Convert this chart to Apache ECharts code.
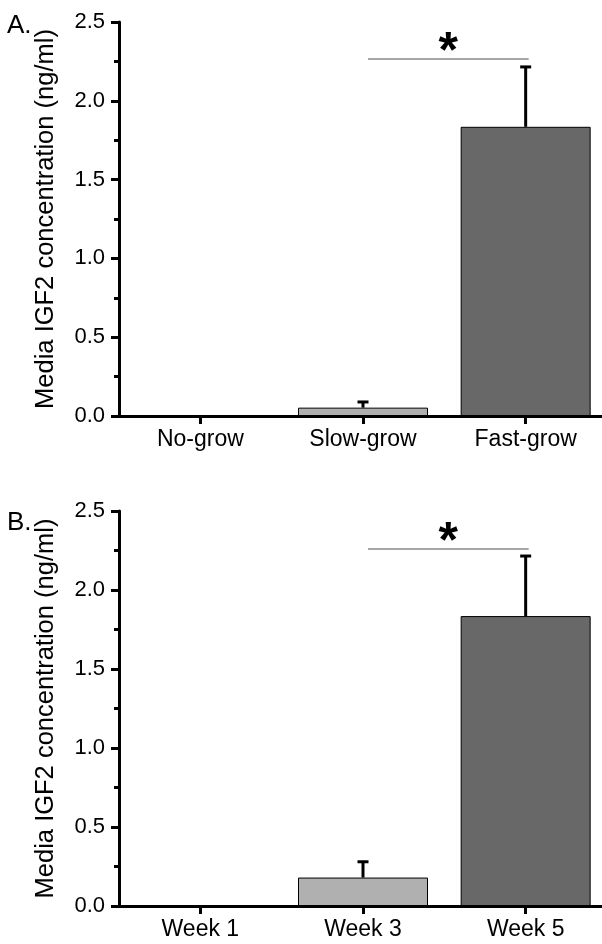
<!DOCTYPE html>
<html>
<head>
<meta charset="utf-8">
<script src="https://cdn.jsdelivr.net/npm/echarts@6/dist/echarts.min.js"></script>
<style>
  html, body { margin: 0; padding: 0; background: #fff; overflow: hidden; }
  #chart { width: 608px; height: 944px; }
</style>
</head>
<body>
<div id="chart"></div>
<script>
// panel A: growth groups
var catsA = ['No-grow', 'Slow-grow', 'Fast-grow'];
var valsA = [0, 0.053, 1.835];
var errA = [0, 0.036, 0.38];
var sigA = 2.265;

// panel B: weeks
var catsB = ['Week 1', 'Week 3', 'Week 5'];
var valsB = [0, 0.18, 1.835];
var errB = [0, 0.1, 0.38];
var sigB = 2.26;

var yTicks = [0, 0.5, 1.0, 1.5, 2.0, 2.5];
var yName = 'Media IGF2 concentration (ng/ml)';

var FONT = 'Liberation Sans, Arial, sans-serif';
var light = '#b0b0b0';
var dark = '#686868';

// container is a few px wider than the window so the x axis runs off the right edge
var chart = echarts.init(document.getElementById('chart'));

function xAxisOpt(cats, gi) {
    return {
        type: 'category',
        gridIndex: gi,
        data: cats,
        axisLine: { lineStyle: { color: '#000', width: 3 } },
        axisTick: { show: true, alignWithLabel: true, length: 8, lineStyle: { color: '#000', width: 3 } },
        axisLabel: { color: '#000', fontSize: 23, fontFamily: FONT, margin: 12 }
    };
}

function yAxisOpt(gi) {
    return {
        type: 'value',
        gridIndex: gi,
        min: yTicks[0],
        max: yTicks[yTicks.length - 1],
        interval: yTicks[1] - yTicks[0],
        name: yName,
        nameLocation: 'middle',
        nameGap: 60,
        nameTextStyle: { color: '#000', fontSize: 25.5, fontFamily: FONT },
        splitLine: { show: false },
        axisLine: { show: true, lineStyle: { color: '#000', width: 3 } },
        axisTick: { show: true, length: 8, lineStyle: { color: '#000', width: 3 } },
        minorTick: { show: true, splitNumber: 2, length: 5, lineStyle: { color: '#000', width: 3 } },
        axisLabel: {
            color: '#000', fontSize: 22, fontFamily: FONT, margin: 14,
            formatter: function (v) { return v.toFixed(1); }
        }
    };
}

function barData(vals) {
    return vals.map(function (v, i) {
        return { value: v, itemStyle: { color: i === vals.length - 1 ? dark : light } };
    });
}

function errData(vals, errs) {
    return vals.map(function (v, i) { return [i, v, v + errs[i]]; });
}

function renderErr(params, api) {
    var lo = api.value(1), hi = api.value(2);
    if (hi <= lo) return null;
    var p0 = api.coord([api.value(0), lo]);
    var p1 = api.coord([api.value(0), hi]);
    var st = { stroke: '#000', lineWidth: 3 };
    return {
        type: 'group',
        children: [
            { type: 'line', shape: { x1: p0[0], y1: p0[1], x2: p1[0], y2: p1[1] }, style: st },
            { type: 'line', shape: { x1: p1[0] - 5.5, y1: p1[1], x2: p1[0] + 5.5, y2: p1[1] }, style: st }
        ]
    };
}

function renderSig(params, api) {
    var y = api.value(2);
    var a = api.coord([api.value(0), y]);
    var b = api.coord([api.value(1), y]);
    return {
        type: 'group',
        children: [
            { type: 'line', shape: { x1: a[0] + 5, y1: a[1], x2: b[0] + 3, y2: b[1] },
              style: { stroke: '#888', lineWidth: 1.5 } },
            { type: 'text', x: (a[0] + b[0]) / 2 + 4, y: a[1] + 19,
              style: { text: '*', fill: '#000', font: 'bold 50px ' + FONT,
                       textAlign: 'center', textVerticalAlign: 'bottom' } }
        ]
    };
}

chart.setOption({
    animation: false,
    backgroundColor: '#fff',
    grid: [
        { left: 119, top: 22, height: 394, width: 488 },
        { left: 119, top: 511, height: 395, width: 488 }
    ],
    xAxis: [xAxisOpt(catsA, 0), xAxisOpt(catsB, 1)],
    yAxis: [yAxisOpt(0), yAxisOpt(1)],
    graphic: [
        { type: 'text', left: 7, top: 13, style: { text: 'A.', fill: '#000', font: '26px ' + FONT } },
        { type: 'text', left: 7, top: 510, style: { text: 'B.', fill: '#000', font: '26px ' + FONT } }
    ],
    series: [
        { type: 'bar', xAxisIndex: 0, yAxisIndex: 0, barWidth: 130, data: barData(valsA),
          itemStyle: { borderColor: '#000', borderWidth: 1 } },
        { type: 'bar', xAxisIndex: 1, yAxisIndex: 1, barWidth: 130, data: barData(valsB),
          itemStyle: { borderColor: '#000', borderWidth: 1 } },
        { type: 'custom', xAxisIndex: 0, yAxisIndex: 0, renderItem: renderErr,
          encode: { x: 0, y: [1, 2] }, data: errData(valsA, errA), z: 5 },
        { type: 'custom', xAxisIndex: 1, yAxisIndex: 1, renderItem: renderErr,
          encode: { x: 0, y: [1, 2] }, data: errData(valsB, errB), z: 5 },
        { type: 'custom', xAxisIndex: 0, yAxisIndex: 0, renderItem: renderSig,
          encode: { x: [0, 1], y: 2 }, data: [[1, 2, sigA]], z: 6 },
        { type: 'custom', xAxisIndex: 1, yAxisIndex: 1, renderItem: renderSig,
          encode: { x: [0, 1], y: 2 }, data: [[1, 2, sigB]], z: 6 }
    ]
});
</script>
</body>
</html>
